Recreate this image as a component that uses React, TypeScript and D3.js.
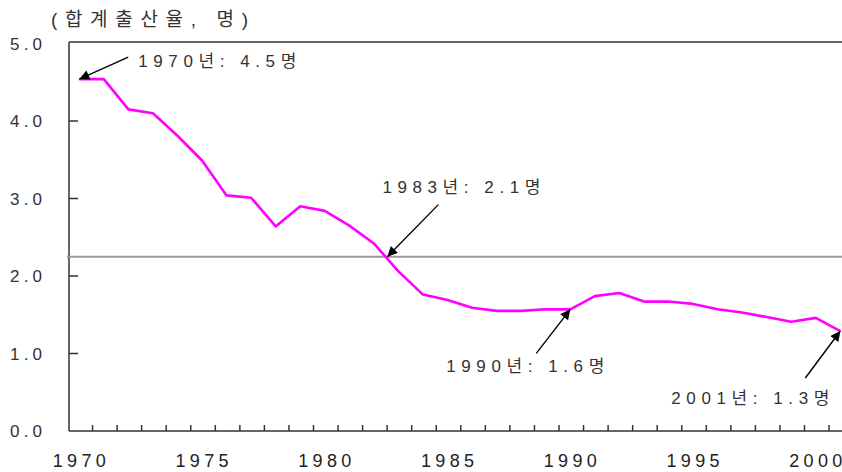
import * as d3 from 'd3';
import React, { useRef, useEffect } from 'react';

// 합계출산율 (total fertility rate), 1970-2001
const years = d3.range(1970, 2002);
const rates = [
  4.54, 4.54, 4.15, 4.10, 3.81, 3.49, 3.04, 3.01, 2.64, 2.90,
  2.84, 2.65, 2.42, 2.06, 1.76, 1.69, 1.59, 1.55, 1.55, 1.57,
  1.57, 1.74, 1.78, 1.67, 1.67, 1.64, 1.57, 1.53, 1.47, 1.41,
  1.46, 1.29,
];
const xTickLabels = [1970, 1975, 1980, 1985, 1990, 1995, 2000];
const yTicks = [0, 1, 2, 3, 4, 5];
const refValue = 2.25;

// callouts: where the arrow points (year, value), tail offset, label offset
const noteText = ['1970년: 4.5명', '1983년: 2.1명', '1990년: 1.6명', '2001년: 1.3명'];
const noteYear = [1970, 1982.55, 1990, 2001];
const noteValue = [4.54, 2.25, 1.57, 1.29];
const noteTail = [[49, -22], [51, -52], [-34, 44], [-35, 47]];
const noteLabel = [[59, -12], [-5, -64], [-124, 63], [-169, 73]];

const title = '(합계출산율, 명)';
const font = '"Liberation Sans", Arial, "Noto Sans CJK KR", sans-serif';

export default function App() {
  const ref = useRef(null);
  const width = 842, height = 472;

  useEffect(() => {
    const svg = d3.select(ref.current);
    svg.selectAll('*').remove();

    const left = 69, top = 42, bottom = 431;
    const bw = 24.55;
    const x = d3.scaleBand().domain(years.map(String)).range([67, 67 + bw * years.length]);
    const xc = (yr) => 67 + bw * (yr - 1970) + bw / 2;
    const y = d3.scaleLinear().domain([0, 5]).range([bottom, top + 1.5]);

    svg.append('defs').append('marker')
      .attr('id', 'arr')
      .attr('viewBox', '0 0 10 10')
      .attr('refX', 10).attr('refY', 5)
      .attr('markerWidth', 13).attr('markerHeight', 10)
      .attr('markerUnits', 'userSpaceOnUse')
      .attr('orient', 'auto')
      .append('path').attr('d', 'M0,0L10,5L0,10Z').attr('fill', '#000');

    // frame top
    svg.append('line')
      .attr('x1', left).attr('x2', width).attr('y1', top).attr('y2', top)
      .attr('stroke', '#333').attr('stroke-width', 1.5);

    // y axis
    svg.append('line')
      .attr('x1', left).attr('x2', left).attr('y1', top).attr('y2', bottom)
      .attr('stroke', '#333').attr('stroke-width', 1.5);
    svg.selectAll('.ytick').data(yTicks.filter(d => d > 0 && d < 5)).enter()
      .append('line')
      .attr('x1', left).attr('x2', left + 9)
      .attr('y1', d => y(d)).attr('y2', d => y(d))
      .attr('stroke', '#333').attr('stroke-width', 1.5);
    svg.selectAll('.ylab').data(yTicks).enter()
      .append('text')
      .attr('x', 10).attr('y', d => y(d) + 6)
      .attr('textLength', 32).attr('lengthAdjust', 'spacing')
      .attr('font-family', font).attr('font-size', 17).attr('fill', '#333')
      .text(d => d.toFixed(1));

    // x axis
    svg.append('line')
      .attr('x1', left).attr('x2', width).attr('y1', bottom).attr('y2', bottom)
      .attr('stroke', '#333').attr('stroke-width', 1.5);
    svg.selectAll('.xtick').data(years.slice(1)).enter()
      .append('line')
      .attr('x1', d => x(String(d)) + 1).attr('x2', d => x(String(d)) + 1)
      .attr('y1', bottom).attr('y2', bottom - 6)
      .attr('stroke', '#333').attr('stroke-width', 1.5);
    svg.selectAll('.xlab').data(xTickLabels).enter()
      .append('text')
      .attr('x', d => x(String(d)) + bw / 2).attr('y', 467)
      .attr('text-anchor', 'middle')
      .attr('textLength', 53).attr('lengthAdjust', 'spacing')
      .attr('font-family', font).attr('font-size', 18).attr('fill', '#222')
      .text(d => d);

    // reference line
    svg.append('line')
      .attr('x1', 67).attr('x2', width).attr('y1', y(refValue)).attr('y2', y(refValue))
      .attr('stroke', '#999').attr('stroke-width', 2);

    // series
    const line = d3.line().x((d, i) => x(String(years[i])) + bw / 2).y(d => y(d));
    svg.append('path').datum(rates)
      .attr('d', line)
      .attr('fill', 'none').attr('stroke', '#ff00ff').attr('stroke-width', 2.6)
      .attr('stroke-linejoin', 'round');

    // callouts
    noteText.forEach((t, i) => {
      const px = xc(noteYear[i]), py = y(noteValue[i]);
      svg.append('line')
        .attr('x1', px + noteTail[i][0]).attr('y1', py + noteTail[i][1])
        .attr('x2', px).attr('y2', py)
        .attr('stroke', '#000').attr('stroke-width', 1.4)
        .attr('marker-end', 'url(#arr)');
      svg.append('text')
        .attr('x', px + noteLabel[i][0]).attr('y', py + noteLabel[i][1])
        .attr('textLength', 158).attr('lengthAdjust', 'spacing')
        .attr('font-family', font).attr('font-size', 17).attr('fill', '#333')
        .text(t);
    });

    // unit title
    svg.append('text')
      .attr('x', 51).attr('y', 26)
      .attr('textLength', 197).attr('lengthAdjust', 'spacing')
      .attr('font-family', font).attr('font-size', 19).attr('fill', '#333')
      .text(title);
  }, []);

  return (
    <svg
      ref={ref}
      width={width}
      height={height}
      viewBox={'0 0 ' + width + ' ' + height}
      style={{ position: 'absolute', left: 0, top: 0, background: '#fff' }}
    />
  );
}
